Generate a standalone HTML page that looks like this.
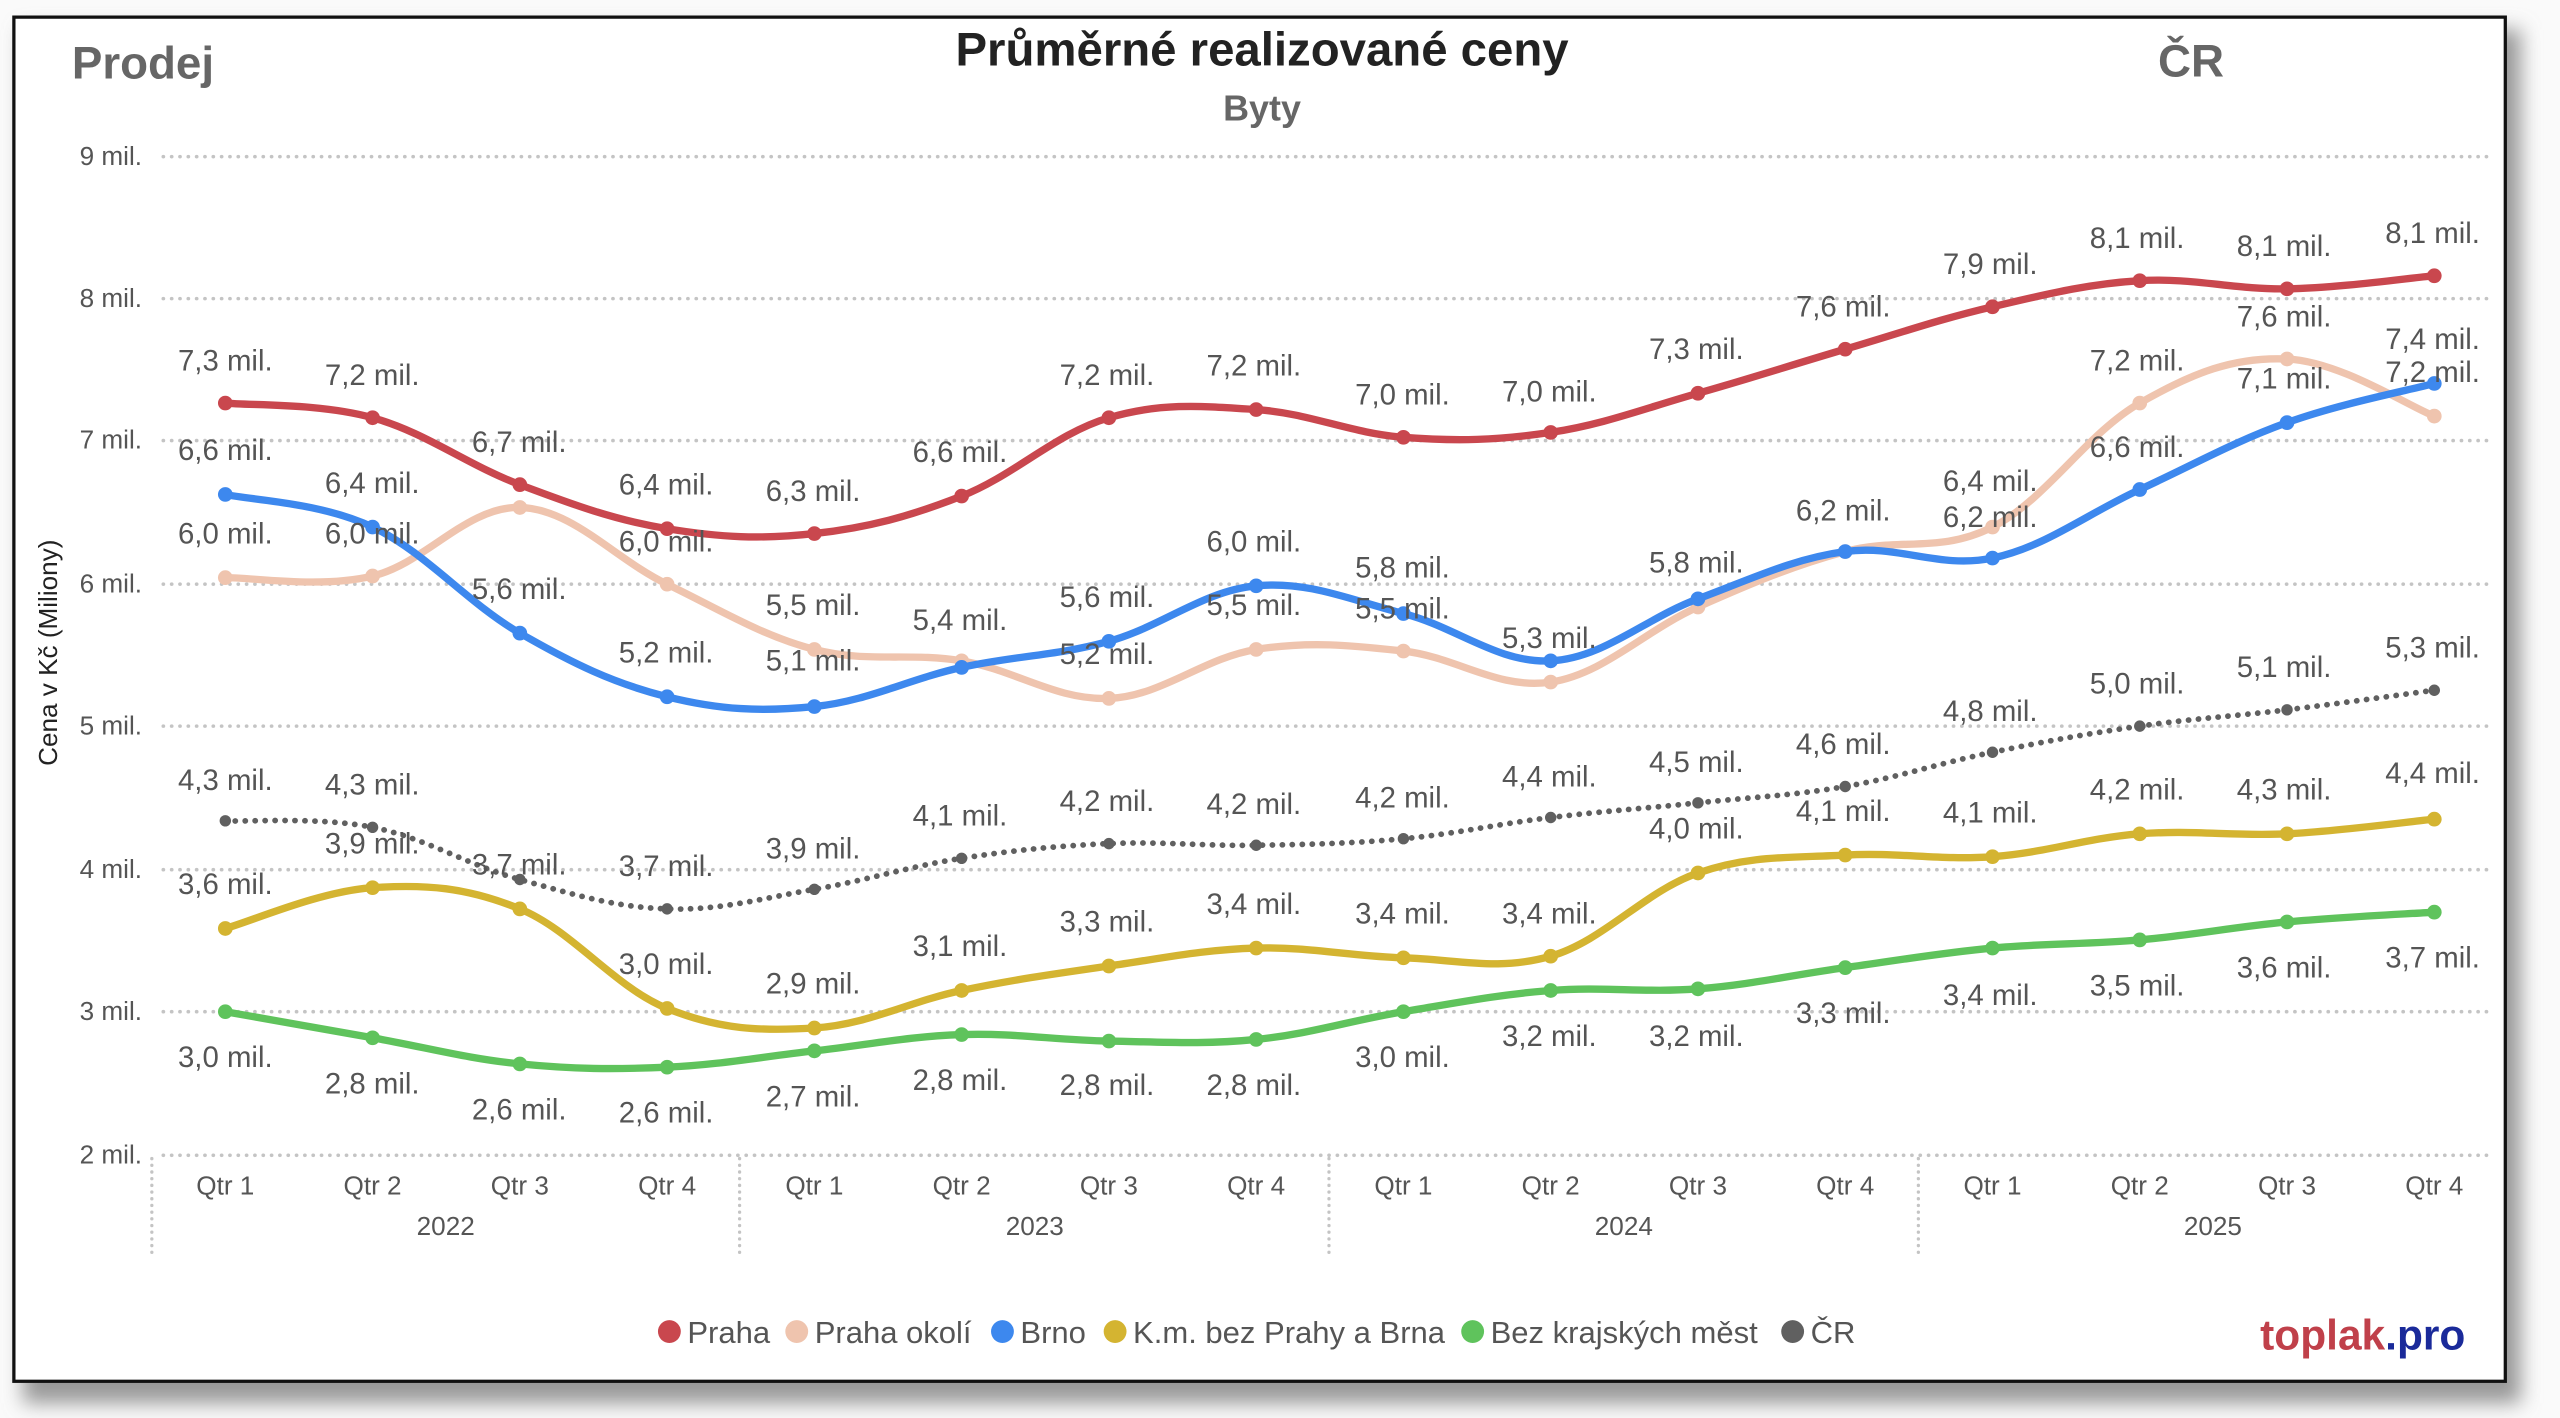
<!DOCTYPE html>
<html><head><meta charset="utf-8"><style>
html,body{margin:0;padding:0;background:#fafafa;}
svg{display:block;}
text{font-family:"Liberation Sans",sans-serif;}
</style></head><body>
<svg id="s" width="2560" height="1418" viewBox="0 0 1568 869" preserveAspectRatio="none" xmlns="http://www.w3.org/2000/svg">
<defs><filter id="sh" x="-5%" y="-5%" width="110%" height="115%"><feGaussianBlur stdDeviation="6"/></filter></defs>
<rect x="14" y="18" width="1530" height="842" fill="#999" filter="url(#sh)"/>
<rect x="8.5" y="10.5" width="1526" height="836" fill="#fff" stroke="#111" stroke-width="2"/>
<g id="g"></g>
<text x="44" y="48" font-size="28" font-weight="bold" fill="#666">Prodej</text>
<text x="773" y="40" font-size="29" font-weight="bold" fill="#222" text-anchor="middle">Průměrné realizované ceny</text>
<text x="773" y="74" font-size="22" font-weight="bold" fill="#666" text-anchor="middle">Byty</text>
<text x="1342" y="47" font-size="28" font-weight="bold" fill="#666" text-anchor="middle">ČR</text>
<text transform="translate(35,400) rotate(-90)" font-size="16" fill="#222" text-anchor="middle">Cena v Kč (Miliony)</text>
<text x="1510" y="827" font-size="26" font-weight="bold" text-anchor="end"><tspan fill="#c0404a">toplak</tspan><tspan fill="#1a2a9a">.pro</tspan></text>
</svg>
<script>
var NS="http://www.w3.org/2000/svg",g=document.getElementById('g');
function el(t,a,txt){var e=document.createElementNS(NS,t);for(var k in a)e.setAttribute(k,a[k]);if(txt!=null)e.textContent=txt;g.appendChild(e);return e;}
var ys=[[9,96],[8,183],[7,270],[6,358],[5,445],[4,533],[3,620],[2,708]];
ys.forEach(function(p){el('line',{x1:100,x2:1525,y1:p[1],y2:p[1],stroke:'#c4c4c4','stroke-width':2.2,'stroke-dasharray':'0.1 5','stroke-linecap':'round'});
el('text',{x:87,y:p[1]+5,'font-size':16,fill:'#555','text-anchor':'end'},p[0]+' mil.');});
[93,453,814,1175].forEach(function(x){el('line',{x1:x,x2:x,y1:710,y2:768,stroke:'#c4c4c4','stroke-width':2,'stroke-dasharray':'0.1 4','stroke-linecap':'round'});});
var X=[];for(var i=0;i<16;i++)X.push(138+i*90.2);
for(i=0;i<16;i++)el('text',{x:X[i],y:732,'font-size':16,fill:'#555','text-anchor':'middle'},'Qtr '+(i%4+1));
['2022','2023','2024','2025'].forEach(function(y,j){el('text',{x:273+j*360.8,y:757,'font-size':16,fill:'#555','text-anchor':'middle'},y);});
var S=[
['#c9474e',[247,256,297,324,327,304,256,251,268,265,241,214,188,172,177,169],0],
['#efc4ae',[354,353,311,358,398,405,428,398,399,418,372,338,323,247,220,255],0],
['#3d88ee',[303,323,388,427,433,409,393,359,376,405,367,338,342,300,259,235],0],
['#d4b431',[569,544,557,618,630,607,592,581,587,586,535,524,525,511,511,502],0],
['#5fc35c',[620,636,652,654,644,634,638,637,620,607,606,593,581,576,565,559],0],
['#606060',[503,507,539,557,545,526,517,518,514,501,492,482,461,445,435,423],1]];
S.forEach(function(s){var Y=s[1],d='M'+X[0]+','+Y[0];
for(var i=0;i<15;i++){var p0=i?i-1:0,p3=i<14?i+2:15,t=0.18;
var c1x=X[i]+(X[i+1]-X[p0])*t,c1y=Y[i]+(Y[i+1]-Y[p0])*t,c2x=X[i+1]-(X[p3]-X[i])*t,c2y=Y[i+1]-(Y[p3]-Y[i])*t;
d+=' C'+c1x+','+c1y+' '+c2x+','+c2y+' '+X[i+1]+','+Y[i+1];}
var a={d:d,fill:'none',stroke:s[0],'stroke-width':4.5,'stroke-linecap':'round'};
if(s[2]){a['stroke-dasharray']='0.1 6';a['stroke-width']=3.5;}
el('path',a);
Y.forEach(function(y,i){el('circle',{cx:X[i],cy:y,r:s[2]?3.5:4.5,fill:s[0]});});});
var L=[
[[138,227,'7,3'],[228,236,'7,2'],[318,277,'6,7'],[408,303,'6,4'],[498,307,'6,3'],[588,283,'6,6'],[678,236,'7,2'],[768,230,'7,2'],[859,248,'7,0'],[949,246,'7,0'],[1039,220,'7,3'],[1129,194,'7,6'],[1219,168,'7,9'],[1309,152,'8,1'],[1399,157,'8,1'],[1490,149,'8,1']],
[[138,333,'6,0'],[228,333,'6,0'],[408,338,'6,0'],[498,377,'5,5'],[588,386,'5,4'],[678,407,'5,2'],[768,377,'5,5'],[859,379,'5,5'],[949,397,'5,3'],[1039,351,'5,8'],[1129,319,'6,2'],[1219,301,'6,4'],[1309,227,'7,2'],[1399,200,'7,6'],[1490,234,'7,2']],
[[138,282,'6,6'],[228,302,'6,4'],[318,367,'5,6'],[408,406,'5,2'],[498,411,'5,1'],[678,372,'5,6'],[768,338,'6,0'],[859,354,'5,8'],[1219,323,'6,2'],[1309,280,'6,6'],[1399,238,'7,1'],[1490,214,'7,4']],
[[138,484,'4,3'],[228,487,'4,3'],[318,536,'3,7'],[408,537,'3,7'],[498,526,'3,9'],[588,506,'4,1'],[678,497,'4,2'],[768,499,'4,2'],[859,495,'4,2'],[949,482,'4,4'],[1039,473,'4,5'],[1129,462,'4,6'],[1219,442,'4,8'],[1309,425,'5,0'],[1399,415,'5,1'],[1490,403,'5,3']],
[[138,548,'3,6'],[228,523,'3,9'],[408,597,'3,0'],[498,609,'2,9'],[588,586,'3,1'],[678,571,'3,3'],[768,560,'3,4'],[859,566,'3,4'],[949,566,'3,4'],[1039,514,'4,0'],[1129,503,'4,1'],[1219,504,'4,1'],[1309,490,'4,2'],[1399,490,'4,3'],[1490,480,'4,4']],
[[138,654,'3,0'],[228,670,'2,8'],[318,686,'2,6'],[408,688,'2,6'],[498,678,'2,7'],[588,668,'2,8'],[678,671,'2,8'],[768,671,'2,8'],[859,654,'3,0'],[949,641,'3,2'],[1039,641,'3,2'],[1129,627,'3,3'],[1219,616,'3,4'],[1309,610,'3,5'],[1399,599,'3,6'],[1490,593,'3,7']]];
L.forEach(function(ls){ls.forEach(function(l){el('text',{x:l[0],y:l[1],'font-size':18,fill:'#555','text-anchor':'middle'},l[2]+' mil.');});});
var leg=[['#c9474e','Praha'],['#efc4ae','Praha okolí'],['#3d88ee','Brno'],['#d4b431','K.m. bez Prahy a Brna'],['#5fc35c','Bez krajských měst'],['#606060','ČR']];
var lx=[403,481,607,676,895,1091];
leg.forEach(function(l,i){el('circle',{cx:lx[i]+7,cy:816,r:7,fill:l[0]});el('text',{x:lx[i]+18,y:823,'font-size':19,fill:'#555'},l[1]);});
</script>
</body></html>
